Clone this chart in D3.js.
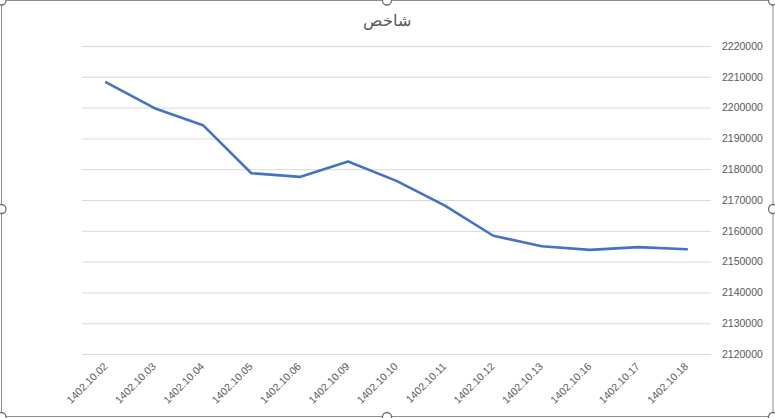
<!DOCTYPE html>
<meta charset="utf-8">
<title>شاخص</title>
<script src="https://cdn.jsdelivr.net/npm/d3@7"></script>
<style>
  html,body{margin:0;background:#fff;overflow:hidden}
  svg{display:block;font-family:"Liberation Sans",Arial,sans-serif}
  .grid line{stroke:#d9d9d9;stroke-width:1}
  .tick text{fill:#595959;font-size:10.5px}
</style>
<svg width="775" height="418"></svg>
<script>
// data
const dates  = ['1402.10.02','1402.10.03','1402.10.04','1402.10.05','1402.10.06','1402.10.09','1402.10.10',
                '1402.10.11','1402.10.12','1402.10.13','1402.10.16','1402.10.17','1402.10.18'];
const values = [2208200,2199800,2194300,2178700,2177500,2182500,2176200,
                2168200,2158400,2155000,2153800,2154700,2154000];
const yTicks = [2120000,2130000,2140000,2150000,2160000,2170000,2180000,2190000,2200000,2210000,2220000];

const W = 775, H = 418;
const m = {left:82, right:W-711, top:46, bottom:H-354};

const svg = d3.select('svg');

// chart frame
svg.append('rect')
   .attr('x',1.5).attr('y',0.5).attr('width',771.5).attr('height',416)
   .attr('fill','#fff').attr('stroke','#8c8c8c').attr('stroke-width',1);

const x = d3.scaleBand().domain(dates).range([m.left, W-m.right]);
const y = d3.scaleLinear().domain([2120000,2220000]).range([H-m.bottom, m.top]);

// gridlines + right axis
const yAxis = svg.append('g')
  .attr('class','grid')
  .attr('transform',`translate(${W-m.right},0)`)
  .call(d3.axisRight(y).tickValues(yTicks).tickSize(-(W-m.left-m.right)).tickPadding(11).tickFormat(d3.format('d')));
yAxis.select('.domain').remove();

// x labels
const xAxis = svg.append('g')
  .attr('transform',`translate(0,${H-m.bottom})`)
  .call(d3.axisBottom(x).tickSize(0).tickPadding(0));
xAxis.select('.domain').remove();
xAxis.selectAll('text')
  .attr('text-anchor','end')
  .attr('dy',0)
  .attr('transform','translate(2,13) rotate(-45)');

// series
const line = d3.line()
  .x((d,i)=>x(dates[i])+x.bandwidth()/2)
  .y(d=>y(d));

svg.append('path')
   .datum(values)
   .attr('fill','none')
   .attr('stroke','#4472c4')
   .attr('stroke-width',2.6)
   .attr('stroke-linejoin','round')
   .attr('stroke-linecap','round')
   .attr('d',line);

// title
svg.append('text')
   .attr('x',387).attr('y',26)
   .attr('text-anchor','middle')
   .attr('fill','#595959')
   .style('font-size','16px')
   .text('شاخص');

// selection handles
const handles = [[1.5,0.5],[387,0.5],[773,0.5],[1.5,209],[773,209],[1.5,417],[387,417],[773,417]];
svg.append('g').selectAll('circle')
   .data(handles)
   .join('circle')
   .attr('cx',d=>d[0]).attr('cy',d=>d[1]).attr('r',4.5)
   .attr('fill','#fff').attr('stroke','#6e6e6e').attr('stroke-width',1.3);
</script>
